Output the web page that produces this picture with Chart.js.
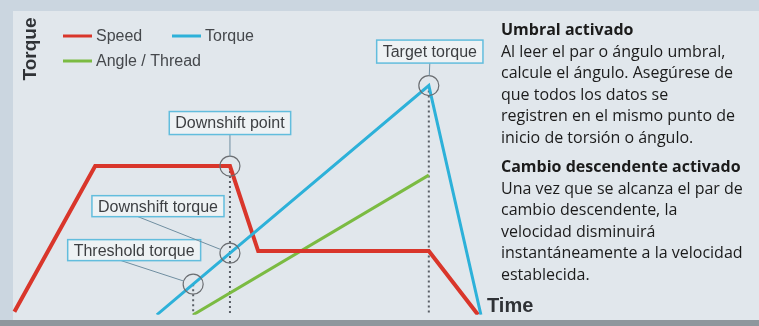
<!DOCTYPE html>
<html>
<head>
<meta charset="utf-8">
<script src="https://cdn.jsdelivr.net/npm/chart.js@4/dist/chart.umd.min.js"></script>
<style>
  html, body { margin: 0; padding: 0; }
  body { width: 759px; height: 326px; position: relative; overflow: hidden; background: #cbd6e0; }
  #panel { position: absolute; left: 13px; top: 11px; right: 0; bottom: 6px; background: #e1e7ec; }
  #floor { position: absolute; left: 0; right: 0; bottom: 0; height: 6px; background: #8e979d; }
  #chart { position: absolute; left: 0; top: 0; }
  #notes {
    position: absolute; left: 501px; top: 19px; width: 258px; white-space: nowrap;
    font-family: "Open Sans", sans-serif; font-size: 16px; line-height: 21.5px; color: #1b1b1b;
  }
  #notes h4 { margin: 0; font-size: 16px; font-weight: 700; }
  #notes p { margin: 0 0 8px 0; }
</style>
</head>
<body>
<div id="panel"></div>
<div id="floor"></div>
<canvas id="chart" width="759" height="326"></canvas>
<div id="notes">
  <h4>Umbral activado</h4>
  <p>Al leer el par o ángulo umbral,<br>calcule el ángulo. Asegúrese de<br>que todos los datos se<br>registren en el mismo punto de<br>inicio de torsión o ángulo.</p>
  <h4>Cambio descendente activado</h4>
  <p>Una vez que se alcanza el par de<br>cambio descendente, la<br>velocidad disminuirá<br>instantáneamente a la velocidad<br>establecida.</p>
</div>
<script>
// Series (time 0..100, value 0..100)
const speedTimes = [0.5, 17.4, 45.6, 51.5, 87.2, 97.5];
const speedValues = [1, 49, 49, 21, 21, 0];

const torqueTimes = [30.3, 37.9, 45.6, 87.2, 98.1];
const torqueValues = [0, 10.1, 20.3, 75.5, 0];

const angleTimes = [37.9, 87.2];
const angleValues = [0, 46];

// Marked events along the curves
const markerLabels = ['Threshold torque', 'Downshift torque', 'Downshift point', 'Target torque'];
const markerTimes = [37.9, 45.6, 45.6, 87.2];
const markerValues = [10.1, 20.3, 49, 75.5];

// Vertical guides dropped from events to the time axis
const guideTimes = [37.9, 45.6, 87.2];
const guideValues = [10.1, 49, 75.5];

const toPoints = (xs, ys) => xs.map((x, i) => ({ x: x, y: ys[i] }));

const datasets = [
    { label: 'Speed', data: toPoints(speedTimes, speedValues), borderColor: '#d9362b', borderWidth: 4, order: 1, inLegend: true },
    { label: 'Torque', data: toPoints(torqueTimes, torqueValues), borderColor: '#2db1d9', borderWidth: 3, order: 0, inLegend: true },
    { label: 'Angle / Thread', data: toPoints(angleTimes, angleValues), borderColor: '#7bbb42', borderWidth: 3, order: 2, inLegend: true },
];

guideTimes.forEach((t, i) => {
    datasets.push({
        label: 'guide' + i,
        data: [{ x: t, y: guideValues[i] }, { x: t, y: 0 }],
        borderColor: '#5a5f66',
        borderWidth: 2,
        borderDash: [2, 3],
        order: 5,
    });
});

datasets.push({
    label: 'markers',
    type: 'scatter',
    data: toPoints(markerTimes, markerValues),
    showLine: false,
    pointRadius: 10,
    pointBackgroundColor: 'rgba(0,0,0,0)',
    pointBorderColor: '#6b6e72',
    pointBorderWidth: 1.2,
    order: -1,
});

// Callout box centres, as pixel offsets from each marker
const calloutOffsets = [[-59, -34], [-72, -47], [0, -43], [1, -34]];
const calloutLeaderX = [-13, -20, 0, 0];

const calloutPlugin = {
    id: 'callouts',
    afterDatasetsDraw(chart) {
        const ctx = chart.ctx;
        const xs = chart.scales.x, ys = chart.scales.y;
        ctx.save();
        ctx.font = '16px "Liberation Sans", Arial, sans-serif';
        ctx.textBaseline = 'middle';
        ctx.textAlign = 'center';
        markerLabels.forEach((text, i) => {
            const ax = xs.getPixelForValue(markerTimes[i]);
            const ay = ys.getPixelForValue(markerValues[i]);
            const cx = ax + calloutOffsets[i][0];
            const cy = ay + calloutOffsets[i][1];
            const w = ctx.measureText(text).width + 12;
            const h = i >= 2 ? 23 : 21;

            // leader from box bottom to circle edge
            const sx = cx + calloutLeaderX[i], sy = cy + h / 2;
            const dx = sx - ax, dy = sy - ay;
            const len = Math.hypot(dx, dy);
            ctx.strokeStyle = '#6f8ea0';
            ctx.lineWidth = 1;
            ctx.beginPath();
            ctx.moveTo(sx, sy);
            ctx.lineTo(ax + dx / len * 10, ay + dy / len * 10);
            ctx.stroke();

            ctx.fillStyle = '#eef2f4';
            ctx.fillRect(cx - w / 2, cy - h / 2, w, h);
            ctx.strokeStyle = '#62bddd';
            ctx.lineWidth = 1.5;
            ctx.strokeRect(cx - w / 2, cy - h / 2, w, h);
            ctx.fillStyle = '#3d3f42';
            ctx.fillText(text, cx, cy + 1);
        });
        ctx.restore();
    }
};

const legendPlugin = {
    id: 'sketchLegend',
    afterDraw(chart) {
        const ctx = chart.ctx;
        const slots = [[63, 36], [172, 36], [63, 61]];
        ctx.save();
        ctx.font = '16px "Liberation Sans", Arial, sans-serif';
        ctx.textBaseline = 'middle';
        chart.data.datasets.filter(d => d.inLegend).forEach((d, i) => {
            const [x, y] = slots[i];
            ctx.strokeStyle = d.borderColor;
            ctx.lineWidth = 3;
            ctx.beginPath();
            ctx.moveTo(x, y);
            ctx.lineTo(x + 29, y);
            ctx.stroke();
            ctx.fillStyle = '#45484c';
            ctx.fillText(d.label, x + 33, y + 1);
        });

        // axis titles
        ctx.font = 'bold 19px "Liberation Sans", Arial, sans-serif';
        ctx.fillStyle = '#2f3236';
        ctx.textAlign = 'center';
        ctx.save();
        ctx.translate(31, 49);
        ctx.rotate(-Math.PI / 2);
        ctx.fillText('Torque', 0, 0);
        ctx.restore();
        ctx.textAlign = 'left';
        ctx.font = 'bold 20px "Liberation Sans", Arial, sans-serif';
        ctx.fillText('Time', 487, 306);
        ctx.restore();
    }
};

new Chart(document.getElementById('chart'), {
    type: 'line',
    data: { datasets: datasets },
    options: {
        responsive: false,
        animation: false,
        devicePixelRatio: 1,
        layout: { padding: { left: 12, right: 269, top: 10, bottom: 6 } },
        elements: { line: { tension: 0, fill: false }, point: { radius: 0 } },
        scales: {
            x: { type: 'linear', min: 0, max: 100, display: false },
            y: { type: 'linear', min: 0, max: 100, display: false },
        },
        plugins: { legend: { display: false }, tooltip: { enabled: false } },
    },
    plugins: [calloutPlugin, legendPlugin],
});
</script>
</body>
</html>
